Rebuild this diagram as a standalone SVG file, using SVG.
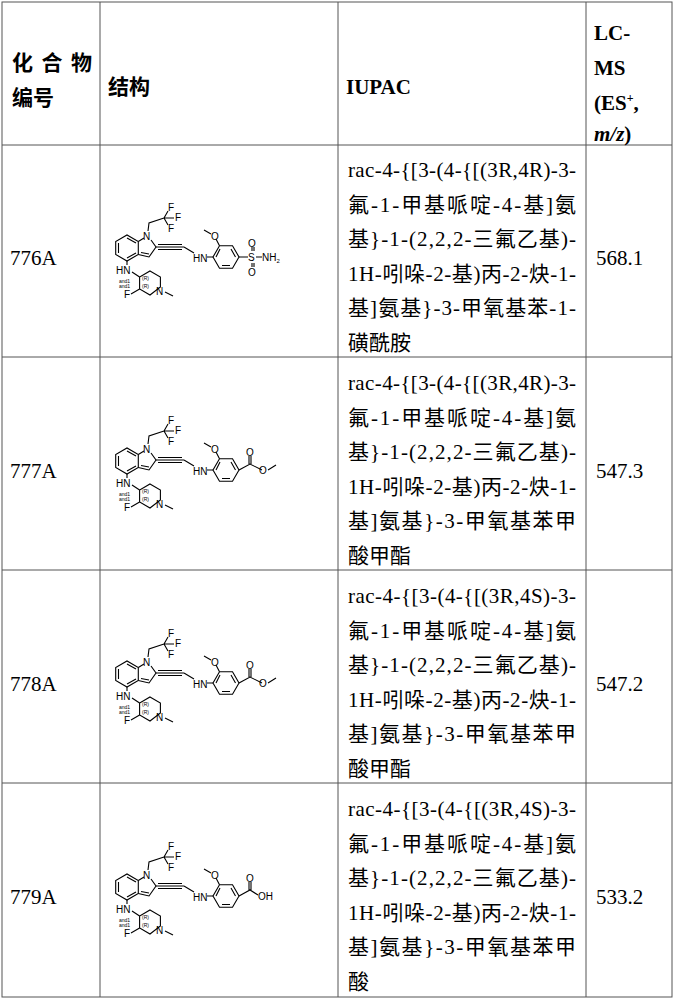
<svg xmlns="http://www.w3.org/2000/svg" xmlns:xlink="http://www.w3.org/1999/xlink" width="674" height="1000" viewBox="0 0 674 1000">
<style>
.grid{stroke:#555;stroke-width:1;fill:none}
.t{font-family:"Liberation Serif","Noto Sans CJK SC",serif;font-size:21px;fill:#000}
.b{font-weight:bold}
.bd{stroke:#000;stroke-width:1.1;fill:none}
.a{font-family:"Liberation Sans",sans-serif;font-size:10px;fill:#000}
.s{font-family:"Liberation Sans",sans-serif;font-size:5px;fill:#000}
</style>
<defs>
<g id="core">
<polygon class="bd" points="138.3,241.5 138.3,254.5 127,261 115.7,254.5 115.7,241.5 127,235"/>
<path class="bd" d="M118.5,243 V253 M127,258 L136,253 M127,238 L136,243"/>
<path class="bd" d="M138.3,241.5 L144,238 M151,240 L156,247 L149,257 L138.3,254.5 M149,254 L141,252.5"/>
<path class="bd" d="M148,231 L149,223 L164,218 M164,218 L168,211 M164,218 L174,218 M164,218 L168,225"/>
<text class="a" x="168" y="211">F</text><text class="a" x="175" y="221">F</text><text class="a" x="168" y="232">F</text>
<text class="a" x="143" y="240">N</text>
<path class="bd" d="M156,247 H184 M158,244.5 H182 M158,249.5 H182 M184,247 L194,253"/>
<text class="a" x="193" y="262">HN</text>
<polygon class="bd" points="239,257 232.5,268.3 219.5,268.3 213,257 219.5,245.7 232.5,245.7"/>
<path class="bd" d="M222,265.5 H230 M235.5,257 L231,249 M216,257 L220,249"/>
<path class="bd" d="M207,257 H213 M219.5,245.7 L216,239 M211,234 L204,230"/>
<text class="a" x="211" y="240">O</text>
<path class="bd" d="M127,261 V265"/>
<text class="a" x="116" y="274">HN</text>
<polygon class="bd" points="150,271 160.4,277 160.4,287 150,295 139.6,289 139.6,277"/>
<path class="bd" d="M132,272 L139.6,277 M139.6,289 L131,294"/>
<text class="a" x="124" y="298">F</text>
<text class="a" x="156" y="295">N</text>
<path class="bd" d="M165,292 L173,296"/>
<text class="s" x="119" y="283">and1</text><text class="s" x="119" y="288">and1</text>
<text class="s" x="142" y="280">(R)</text><text class="s" x="142" y="288">(R)</text>
</g>
</defs>
<g id="table">
<rect class="grid" x="2" y="2" width="670" height="995"/>
<path class="grid" d="M100,2 V997 M338,2 V997 M586,2 V997 M2,145 H672 M2,357 H672 M2,570 H672 M2,783 H672"/>
</g>
<g id="header">
<text class="t b" x="12" y="70" textLength="80" lengthAdjust="spacing">化合物</text>
<text class="t b" x="12" y="105">编号</text>
<text class="t b" x="108" y="94">结构</text>
<text class="t b" x="346" y="94">IUPAC</text>
<text class="t b" x="594" y="40">LC-</text>
<text class="t b" x="594" y="75">MS</text>
<text class="t b" x="594" y="110">(ES<tspan font-size="12" dy="-8">+</tspan><tspan dy="8">,</tspan></text>
<text class="t b" x="594" y="141"><tspan font-style="italic">m/z</tspan>)</text>
</g>
<g id="row776A">
<text class="t" x="10" y="265">776A</text>
<use xlink:href="#core"/>
<path class="bd" d="M239,257 H248 M256,257 H262 M252,251 V247 M254,251 V247 M252,263 V267 M254,263 V267"/>
<text class="a" x="248" y="261">S</text><text class="a" x="248" y="247">O</text><text class="a" x="248" y="276">O</text>
<text class="a" x="262" y="261">NH<tspan font-size="6" dy="2">2</tspan></text>
<g class="t">
<text x="348" y="177" textLength="228" lengthAdjust="spacing">rac-4-{[3-(4-{[(3R,4R)-3-</text>
<text x="348" y="211.5" textLength="228" lengthAdjust="spacing">氟-1-甲基哌啶-4-基]氨</text>
<text x="348" y="246" textLength="228" lengthAdjust="spacing">基}-1-(2,2,2-三氟乙基)-</text>
<text x="348" y="280.5" textLength="228" lengthAdjust="spacing">1H-吲哚-2-基)丙-2-炔-1-</text>
<text x="348" y="315" textLength="228" lengthAdjust="spacing">基]氨基}-3-甲氧基苯-1-</text>
<text x="348" y="349.5">磺酰胺</text>
</g>
<text class="t" x="596" y="265">568.1</text>
</g>
<g id="row777A">
<text class="t" x="10" y="478">777A</text>
<use xlink:href="#core" y="213"/>
<path class="bd" d="M239,470 L250,464 L262,470 M249,464 V456 M251,464 V456 M268,470 L276,465"/>
<text class="a" x="246" y="456">O</text><text class="a" x="259" y="474">O</text>
<g class="t">
<text x="348" y="390" textLength="228" lengthAdjust="spacing">rac-4-{[3-(4-{[(3R,4R)-3-</text>
<text x="348" y="424.5" textLength="228" lengthAdjust="spacing">氟-1-甲基哌啶-4-基]氨</text>
<text x="348" y="459" textLength="228" lengthAdjust="spacing">基}-1-(2,2,2-三氟乙基)-</text>
<text x="348" y="493.5" textLength="228" lengthAdjust="spacing">1H-吲哚-2-基)丙-2-炔-1-</text>
<text x="348" y="528" textLength="228" lengthAdjust="spacing">基]氨基}-3-甲氧基苯甲</text>
<text x="348" y="562.5">酸甲酯</text>
</g>
<text class="t" x="596" y="478">547.3</text>
</g>
<g id="row778A">
<text class="t" x="10" y="691">778A</text>
<use xlink:href="#core" y="426"/>
<path class="bd" d="M239,683 L250,677 L262,683 M249,677 V669 M251,677 V669 M268,683 L276,678"/>
<text class="a" x="246" y="669">O</text><text class="a" x="259" y="687">O</text>
<g class="t">
<text x="348" y="603" textLength="228" lengthAdjust="spacing">rac-4-{[3-(4-{[(3R,4S)-3-</text>
<text x="348" y="637.5" textLength="228" lengthAdjust="spacing">氟-1-甲基哌啶-4-基]氨</text>
<text x="348" y="672" textLength="228" lengthAdjust="spacing">基}-1-(2,2,2-三氟乙基)-</text>
<text x="348" y="706.5" textLength="228" lengthAdjust="spacing">1H-吲哚-2-基)丙-2-炔-1-</text>
<text x="348" y="741" textLength="228" lengthAdjust="spacing">基]氨基}-3-甲氧基苯甲</text>
<text x="348" y="775.5">酸甲酯</text>
</g>
<text class="t" x="596" y="691">547.2</text>
</g>
<g id="row779A">
<text class="t" x="10" y="904">779A</text>
<use xlink:href="#core" y="639"/>
<path class="bd" d="M239,896 L250,890 L258,895 M249,890 V882 M251,890 V882"/>
<text class="a" x="246" y="882">O</text><text class="a" x="258" y="900">OH</text>
<g class="t">
<text x="348" y="816" textLength="228" lengthAdjust="spacing">rac-4-{[3-(4-{[(3R,4S)-3-</text>
<text x="348" y="850.5" textLength="228" lengthAdjust="spacing">氟-1-甲基哌啶-4-基]氨</text>
<text x="348" y="885" textLength="228" lengthAdjust="spacing">基}-1-(2,2,2-三氟乙基)-</text>
<text x="348" y="919.5" textLength="228" lengthAdjust="spacing">1H-吲哚-2-基)丙-2-炔-1-</text>
<text x="348" y="954" textLength="228" lengthAdjust="spacing">基]氨基}-3-甲氧基苯甲</text>
<text x="348" y="988.5">酸</text>
</g>
<text class="t" x="596" y="904">533.2</text>
</g>
</svg>
